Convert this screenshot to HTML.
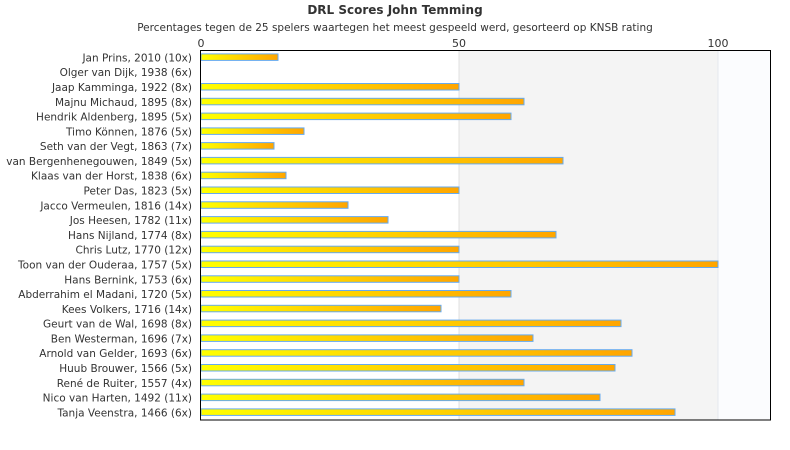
<!DOCTYPE html>
<html><head><meta charset="utf-8"><style>body{margin:0;background:#fff}svg{display:block}text{font-family:"DejaVu Sans","Liberation Sans",sans-serif}</style></head><body>
<svg width="790" height="450" viewBox="0 0 790 450" xmlns="http://www.w3.org/2000/svg">
<defs><linearGradient id="g" x1="0" x2="1" y1="0" y2="0"><stop offset="0" stop-color="#ffff00"/><stop offset="1" stop-color="#ffa500"/></linearGradient></defs>
<text x="395" y="14" text-anchor="middle" font-size="12" font-weight="bold" fill="#333">DRL Scores John Temming</text>
<text x="395" y="31" text-anchor="middle" font-size="10.5" fill="#333">Percentages tegen de 25 spelers waartegen het meest gespeeld werd, gesorteerd op KNSB rating</text>
<rect x="459" y="50" width="259" height="370" fill="#f4f4f4"/>
<rect x="718" y="50" width="52" height="370" fill="#fbfcfe"/>
<line x1="459" y1="50" x2="459" y2="420" stroke="#e0e0e0"/>
<line x1="718" y1="50" x2="718" y2="420" stroke="#e4e8ee"/>
<g font-size="11" fill="#333" text-anchor="middle"><text x="201" y="47">0</text><text x="459" y="47">50</text><text x="718" y="47">100</text></g>
<g font-size="10.5" fill="#333" text-anchor="end">
<text x="192" y="61.4">Jan Prins, 2010 (10x)</text>
<text x="192" y="76.2">Olger van Dijk, 1938 (6x)</text>
<text x="192" y="91">Jaap Kamminga, 1922 (8x)</text>
<text x="192" y="105.8">Majnu Michaud, 1895 (8x)</text>
<text x="192" y="120.6">Hendrik Aldenberg, 1895 (5x)</text>
<text x="192" y="135.4">Timo Können, 1876 (5x)</text>
<text x="192" y="150.1">Seth van der Vegt, 1863 (7x)</text>
<text x="192" y="164.9">van Bergenhenegouwen, 1849 (5x)</text>
<text x="192" y="179.7">Klaas van der Horst, 1838 (6x)</text>
<text x="192" y="194.5">Peter Das, 1823 (5x)</text>
<text x="192" y="209.3">Jacco Vermeulen, 1816 (14x)</text>
<text x="192" y="224.1">Jos Heesen, 1782 (11x)</text>
<text x="192" y="238.9">Hans Nijland, 1774 (8x)</text>
<text x="192" y="253.7">Chris Lutz, 1770 (12x)</text>
<text x="192" y="268.5">Toon van der Ouderaa, 1757 (5x)</text>
<text x="192" y="283.3">Hans Bernink, 1753 (6x)</text>
<text x="192" y="298">Abderrahim el Madani, 1720 (5x)</text>
<text x="192" y="312.8">Kees Volkers, 1716 (14x)</text>
<text x="192" y="327.6">Geurt van de Wal, 1698 (8x)</text>
<text x="192" y="342.4">Ben Westerman, 1696 (7x)</text>
<text x="192" y="357.2">Arnold van Gelder, 1693 (6x)</text>
<text x="192" y="372">Huub Brouwer, 1566 (5x)</text>
<text x="192" y="386.8">René de Ruiter, 1557 (4x)</text>
<text x="192" y="401.6">Nico van Harten, 1492 (11x)</text>
<text x="192" y="416.4">Tanja Veenstra, 1466 (6x)</text>
</g>
<g fill="url(#g)" stroke="#66aaee" stroke-width="1">
<rect x="201" y="53.9" width="77" height="6.5"/>
<rect x="201" y="83.5" width="258" height="6.5"/>
<rect x="201" y="98.3" width="323" height="6.5"/>
<rect x="201" y="113.1" width="310" height="6.5"/>
<rect x="201" y="127.9" width="103" height="6.5"/>
<rect x="201" y="142.6" width="73" height="6.5"/>
<rect x="201" y="157.4" width="362" height="6.5"/>
<rect x="201" y="172.2" width="85" height="6.5"/>
<rect x="201" y="187" width="258" height="6.5"/>
<rect x="201" y="201.8" width="147" height="6.5"/>
<rect x="201" y="216.6" width="187" height="6.5"/>
<rect x="201" y="231.4" width="355" height="6.5"/>
<rect x="201" y="246.2" width="258" height="6.5"/>
<rect x="201" y="261" width="517" height="6.5"/>
<rect x="201" y="275.8" width="258" height="6.5"/>
<rect x="201" y="290.5" width="310" height="6.5"/>
<rect x="201" y="305.3" width="240" height="6.5"/>
<rect x="201" y="320.1" width="420" height="6.5"/>
<rect x="201" y="334.9" width="332" height="6.5"/>
<rect x="201" y="349.7" width="431" height="6.5"/>
<rect x="201" y="364.5" width="414" height="6.5"/>
<rect x="201" y="379.3" width="323" height="6.5"/>
<rect x="201" y="394.1" width="399" height="6.5"/>
<rect x="201" y="408.9" width="474" height="6.5"/>
</g>
<rect x="200.5" y="50.5" width="570" height="369.5" fill="none" stroke="#000"/>
</svg>
</body></html>
